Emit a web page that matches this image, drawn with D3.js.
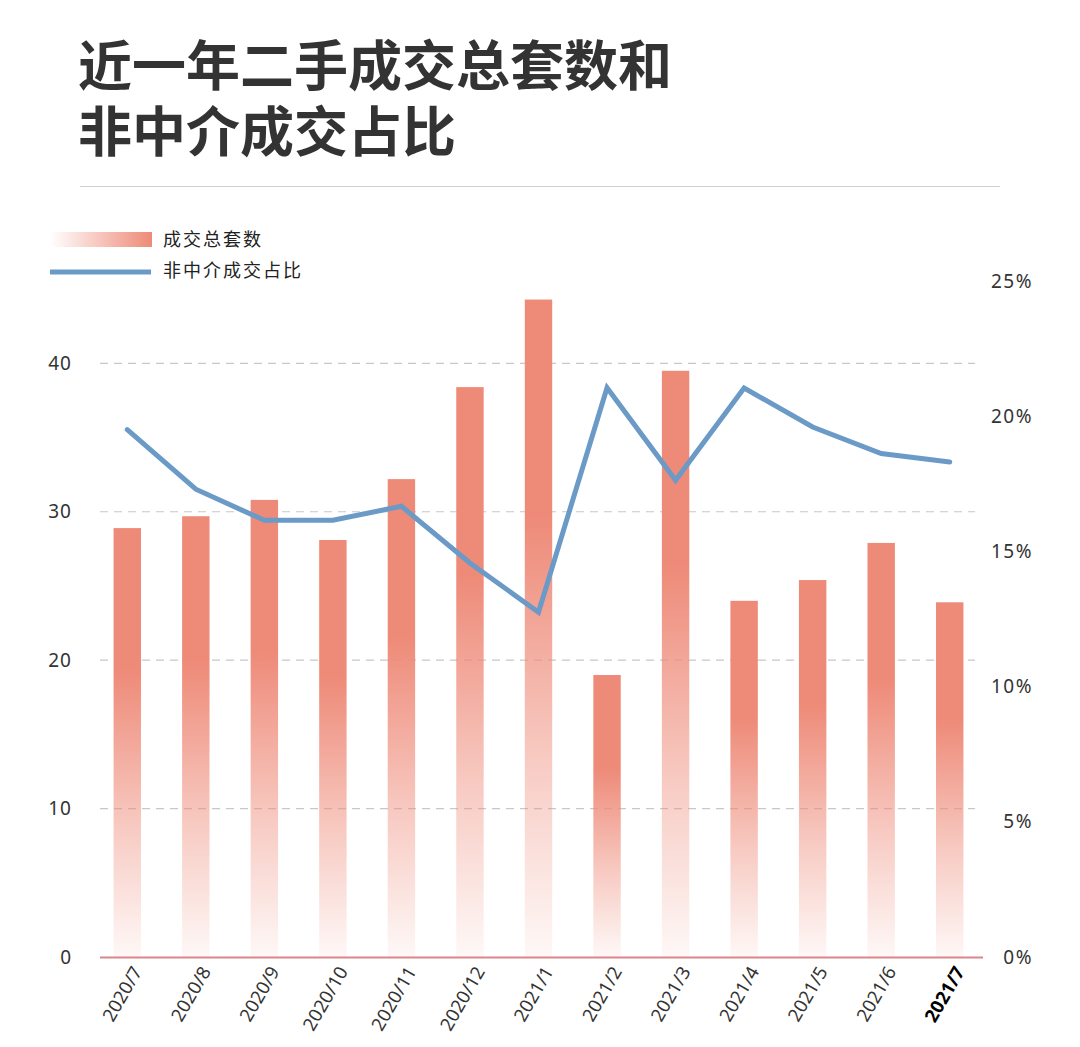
<!DOCTYPE html>
<html><head><meta charset="utf-8">
<script src="https://cdn.jsdelivr.net/npm/d3@7"></script>
<style>
html,body{margin:0;padding:0;background:#fff;}
#wrap{position:relative;width:1080px;height:1047px;}
svg{display:block;font-family:"Noto Sans","Noto Sans CJK SC",sans-serif;}
.title-line{position:absolute;left:78px;font-family:"Noto Sans CJK SC",sans-serif;font-weight:700;font-size:54px;line-height:66px;height:66px;color:#333;white-space:nowrap;margin:0;}
</style></head>
<body>
<div id="wrap"><svg id="chart" width="1080" height="1047"></svg></div>
<script>
const categories = ["2020/7","2020/8","2020/9","2020/10","2020/11","2020/12","2021/1","2021/2","2021/3","2021/4","2021/5","2021/6","2021/7"];
const totalDeals = [28.9, 29.7, 30.8, 28.1, 32.2, 38.4, 44.3, 19.0, 39.5, 24.0, 25.4, 27.9, 23.9];
const nonAgencyShare = [0.195, 0.173, 0.1615, 0.1615, 0.1667, 0.1457, 0.1275, 0.2105, 0.1763, 0.2104, 0.196, 0.1862, 0.1831];
const leftTicks = [0, 10, 20, 30, 40];
const rightTicks = [0, 0.05, 0.10, 0.15, 0.20, 0.25];
const titleLines = ["近一年二手成交总套数和", "非中介成交占比"];
const legendLabels = ["成交总套数", "非中介成交占比"];

const svg = d3.select("#chart");
const barColor = "#ee8a78";
const lineColor = "#6b9ac7";

// Title (HTML lines with fixed line boxes)
d3.select("#wrap").selectAll("div.title-line").data(titleLines).join("div")
  .attr("class","title-line")
  .style("top",(d,i)=> (29.5 + i*66) + "px")
  .text(d=>d);

svg.append("line").attr("x1",80).attr("x2",1000).attr("y1",186.5).attr("y2",186.5)
  .attr("stroke","#cfcfcf").attr("stroke-width",1.2);

// Scales
const x = d3.scaleBand().domain(categories).range([93, 984]).paddingInner(0.6).paddingOuter(0.3);
const yL = d3.scaleLinear().domain([0, 45.55]).range([957, 281]);
const yR = d3.scaleLinear().domain([0, 0.25]).range([957, 281]);

const defs = svg.append("defs");
const grad = defs.append("linearGradient").attr("id","barGrad")
  .attr("x1",0).attr("y1",0).attr("x2",0).attr("y2",1);
grad.append("stop").attr("offset","0%").attr("stop-color",barColor).attr("stop-opacity",1);
grad.append("stop").attr("offset","33%").attr("stop-color",barColor).attr("stop-opacity",1);
grad.append("stop").attr("offset","70%").attr("stop-color",barColor).attr("stop-opacity",0.45);
grad.append("stop").attr("offset","100%").attr("stop-color",barColor).attr("stop-opacity",0.06);

const lgGrad = defs.append("linearGradient").attr("id","legGrad")
  .attr("x1",0).attr("y1",0).attr("x2",1).attr("y2",0);
lgGrad.append("stop").attr("offset","0%").attr("stop-color",barColor).attr("stop-opacity",0);
lgGrad.append("stop").attr("offset","100%").attr("stop-color",barColor).attr("stop-opacity",1);

// Legend
svg.append("rect").attr("x",50).attr("y",232).attr("width",102).attr("height",15).attr("fill","url(#legGrad)");
svg.append("line").attr("x1",50).attr("x2",151).attr("y1",272).attr("y2",272)
  .attr("stroke",lineColor).attr("stroke-width",5);
svg.selectAll("text.leg").data(legendLabels).join("text")
  .attr("class","leg")
  .attr("x",163).attr("y",(d,i)=> 240 + i*31).attr("dy","0.35em")
  .attr("font-family",'"Noto Sans CJK SC", sans-serif')
  .attr("font-size",18).attr("letter-spacing",2).attr("fill","#222")
  .text(d=>d);

// Grid lines
svg.append("g").selectAll("line").data(leftTicks.filter(d=>d>0)).join("line")
  .attr("x1",100).attr("x2",975)
  .attr("y1",d=>yL(d)).attr("y2",d=>yL(d))
  .attr("stroke","#c8c8c8").attr("stroke-width",1.2).attr("stroke-dasharray","8,6");

// Bars
svg.append("g").selectAll("rect").data(totalDeals).join("rect")
  .attr("x",(d,i)=>x(categories[i]))
  .attr("width",x.bandwidth())
  .attr("y",d=>yL(d))
  .attr("height",d=>yL(0)-yL(d))
  .attr("fill","url(#barGrad)");

// Baseline
svg.append("line").attr("x1",100).attr("x2",983).attr("y1",957.5).attr("y2",957.5)
  .attr("stroke","#d9868c").attr("stroke-width",2);

// Line
const line = d3.line().x((d,i)=>x(categories[i])+x.bandwidth()/2).y(d=>yR(d));
svg.append("path").datum(nonAgencyShare)
  .attr("d",line).attr("fill","none")
  .attr("stroke",lineColor).attr("stroke-width",5)
  .attr("stroke-linejoin","miter").attr("stroke-linecap","round");

// Left axis
const axL = svg.append("g").attr("transform","translate(72,0)")
  .call(d3.axisLeft(yL).tickValues(leftTicks).tickSize(0).tickPadding(0));
axL.select(".domain").remove();
axL.selectAll("text").attr("font-size",19).attr("fill","#333").attr("letter-spacing",1)
  .attr("font-family",'"Noto Sans", sans-serif');

// Right axis
const axR = svg.append("g").attr("transform","translate(1033,0)")
  .call(d3.axisLeft(yR).tickValues(rightTicks).tickFormat(d3.format(".0%")).tickSize(0).tickPadding(0));
axR.select(".domain").remove();
axR.selectAll("text").attr("font-size",19).attr("fill","#333").attr("letter-spacing",1.5)
  .attr("font-family",'"Noto Sans", sans-serif');

// X axis labels
const axX = svg.append("g").attr("transform","translate(0,968)")
  .call(d3.axisBottom(x).tickSize(0).tickPadding(0));
axX.select(".domain").remove();
axX.selectAll("text")
  .attr("font-size",18.5).attr("fill","#333")
  .attr("font-family",'"Noto Sans", sans-serif')
  .attr("text-anchor","end")
  .attr("dy","0.35em")
  .attr("transform","translate(10,0) rotate(-60)")
  .attr("font-weight",(d,i)=> i===categories.length-1 ? 700 : 400)
  .attr("fill",(d,i)=> i===categories.length-1 ? "#000" : "#333");
</script>
</body></html>
